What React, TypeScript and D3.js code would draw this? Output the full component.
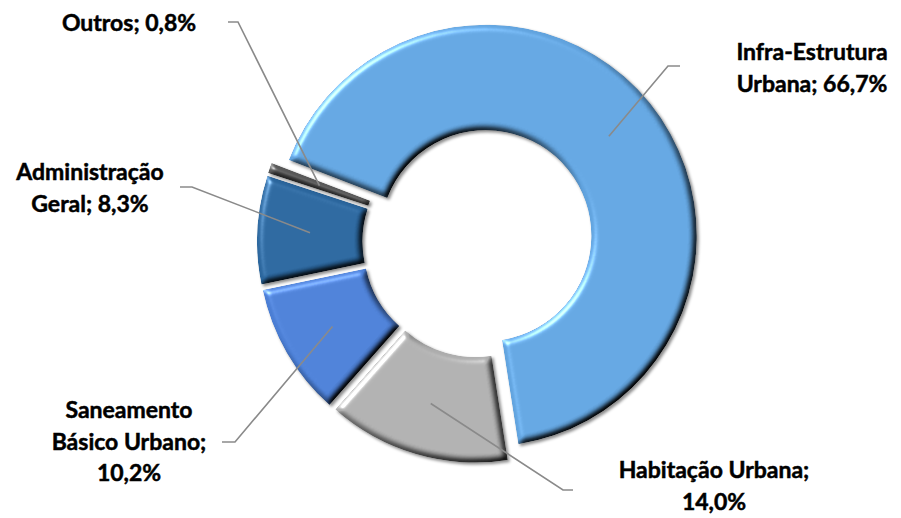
import { useMemo } from "react";
import * as d3 from "d3";

// data
const categories = [
  "Infra-Estrutura Urbana",
  "Habitação Urbana",
  "Saneamento Básico Urbano",
  "Administração Geral",
  "Outros",
];
const values = [66.7, 14.0, 10.2, 8.3, 0.8];
const colors = ["#60a2dd", "#acacac", "#4a7dd3", "#29649b", "#575757"];
// words per line of each label
const lineBreaks = [[1, 2], [2, 1], [1, 2, 1], [1, 2], [2]];

// layout
const width = 901;
const height = 518;
const cx = 478;
const cy = 242;
const outerR = 211;
const innerR = 105.5;
const explode = 10;
const startDeg = 291;
const labelPos = [
  { x: 812, y: 60, elbow: [668, 66], end: [680, 66] },
  { x: 714, y: 478, elbow: [563, 490], end: [573, 490] },
  { x: 129, y: 418, elbow: [235, 442], end: [222, 442] },
  { x: 90, y: 180, elbow: [192, 187], end: [180, 187] },
  { x: 129, y: 31, elbow: [238, 22], end: [228, 22] },
];
const lineHeight = 31.5;

const fmt = (v: number) => v.toFixed(1).replace(".", ",") + "%";

function splitLabel(text: string, breaks: number[]) {
  const words = text.split(" ");
  const out: string[] = [];
  let i = 0;
  breaks.forEach((n) => {
    out.push(words.slice(i, i + n).join(" "));
    i += n;
  });
  return out;
}

export default function App() {
  const slices = useMemo(() => {
    const start = (startDeg * Math.PI) / 180;
    const pie = d3
      .pie<number>()
      .sort(null)
      .value((d) => d)
      .startAngle(start)
      .endAngle(start + 2 * Math.PI);
    return pie(values);
  }, []);

  const arc = d3.arc<d3.PieArcDatum<number>>().innerRadius(innerR).outerRadius(outerR);
  const midR = (innerR + outerR) / 2;

  return (
    <svg
      width={width}
      height={height}
      style={{ position: "absolute", left: 0, top: 0, background: "#fff" }}
      fontFamily="Lato, 'Open Sans', sans-serif"
    >
      <defs>
        <filter
          id="bevel"
          filterUnits="userSpaceOnUse"
          x={-300}
          y={-300}
          width={600}
          height={600}
          colorInterpolationFilters="sRGB"
        >
          <feGaussianBlur in="SourceAlpha" stdDeviation="3" result="blur" />
          <feDiffuseLighting in="blur" surfaceScale="4" diffuseConstant="1.414" lightingColor="#fff" result="diff">
            <feDistantLight azimuth="225" elevation="45" />
          </feDiffuseLighting>
          <feComposite in="SourceGraphic" in2="diff" operator="arithmetic" k1="1" k2="0" k3="0" k4="0" result="shaded" />
          <feSpecularLighting in="blur" surfaceScale="4" specularConstant="0.5" specularExponent="24" lightingColor="#fff" result="spec">
            <feDistantLight azimuth="225" elevation="35" />
          </feSpecularLighting>
          <feComposite in="spec" in2="SourceAlpha" operator="in" result="specIn" />
          <feComposite in="shaded" in2="specIn" operator="arithmetic" k1="0" k2="1" k3="1" k4="0" result="lit" />
          <feComposite in="lit" in2="SourceAlpha" operator="in" result="litIn" />
          <feOffset in="SourceAlpha" dx="2" dy="2" result="off" />
          <feGaussianBlur in="off" stdDeviation="1.5" result="offBlur" />
          <feFlood floodColor="#000" floodOpacity="0.45" />
          <feComposite in2="offBlur" operator="in" result="shadow" />
          <feMerge>
            <feMergeNode in="shadow" />
            <feMergeNode in="litIn" />
          </feMerge>
        </filter>
      </defs>

      <g transform={`translate(${cx},${cy})`}>
        {slices.map((s, i) => {
          const mid = (s.startAngle + s.endAngle) / 2;
          const dx = explode * Math.sin(mid);
          const dy = -explode * Math.cos(mid);
          return (
            <path
              key={categories[i]}
              d={arc(s) || ""}
              transform={`translate(${dx},${dy})`}
              fill={colors[i]}
              filter="url(#bevel)"
            />
          );
        })}
      </g>

      {/* leader lines */}
      {slices.map((s, i) => {
        const mid = (s.startAngle + s.endAngle) / 2;
        const r = midR + explode;
        const px = cx + r * Math.sin(mid);
        const py = cy - r * Math.cos(mid);
        const lp = labelPos[i];
        return (
          <polyline
            key={"l" + i}
            points={`${px},${py} ${lp.elbow[0]},${lp.elbow[1]} ${lp.end[0]},${lp.end[1]}`}
            fill="none"
            stroke="#8a8a8a"
            strokeWidth={1.6}
          />
        );
      })}

      {/* labels */}
      {categories.map((c, i) => {
        const lines = splitLabel(`${c}; ${fmt(values[i])}`, lineBreaks[i]);
        const lp = labelPos[i];
        return (
          <text
            key={"t" + i}
            x={lp.x}
            y={lp.y}
            textAnchor="middle"
            fontSize={23}
            fontWeight={700}
            fill="#000"
            stroke="#000"
            strokeWidth={0.5}
          >
            {lines.map((ln, j) => (
              <tspan key={j} x={lp.x} dy={j === 0 ? 0 : lineHeight}>
                {ln}
              </tspan>
            ))}
          </text>
        );
      })}
    </svg>
  );
}
